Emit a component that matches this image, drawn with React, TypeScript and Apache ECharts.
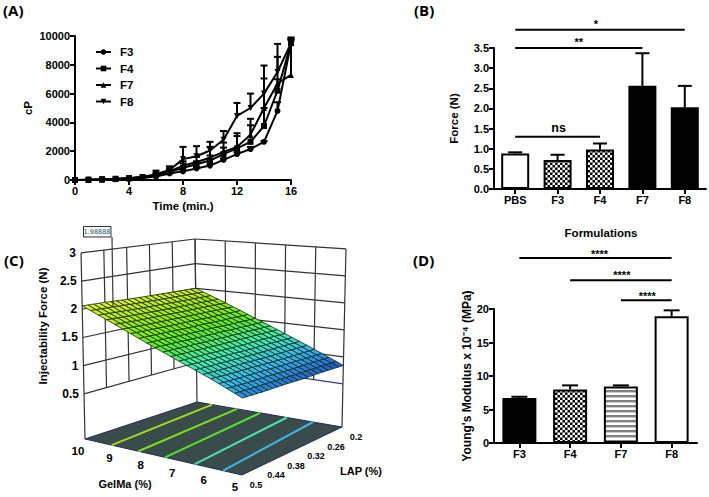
import React, { useEffect, useRef } from "react";
import * as echarts from "echarts";

// ---------- Panel A: viscosity vs time ----------
const times = [0, 1, 2, 3, 4, 5, 6, 7, 8, 9, 10, 11, 12, 13, 14, 15, 16];
const f3Visc = [0, 10, 30, 50, 80, 130, 250, 450, 600, 800, 1000, 1400, 1800, 2150, 2650, 4800, 9500];
const f4Visc = [0, 20, 40, 70, 130, 200, 350, 550, 850, 1100, 1350, 1800, 2200, 2650, 3750, 6200, 9500];
const f7Visc = [0, 20, 40, 70, 120, 200, 330, 600, 1000, 1250, 1550, 1950, 2300, 3150, 5000, 6700, 7300];
const f8Visc = [0, 20, 50, 80, 130, 210, 400, 700, 1450, 1650, 2050, 2800, 4450, 5000, 6000, 7500, 9500];
const f3Upper = [0, 10, 30, 50, 80, 130, 300, 500, 700, 900, 1100, 1500, 1950, 2300, 2700, 5400, 9700];
const f4Upper = [0, 20, 40, 70, 130, 200, 650, 800, 1150, 1300, 1700, 2250, 3050, 3800, 5000, 7000, 9800];
const f7Upper = [0, 20, 40, 70, 120, 200, 400, 700, 1300, 1600, 2300, 2600, 3250, 4250, 7050, 8550, 9800];
const f8Upper = [0, 20, 50, 80, 130, 210, 500, 950, 2300, 2350, 2650, 3400, 5350, 6000, 7950, 9450, 9900];

// ---------- Panel B: injection force ----------
const forceCats = ["PBS", "F3", "F4", "F7", "F8"];
const forceVals = [0.88, 0.72, 0.98, 2.56, 2.03];
const forceUpper = [0.91, 0.85, 1.13, 3.37, 2.56];
const forceSig = [
  { from: 0, to: 3.93, label: "*" },
  { from: -0.05, to: 3.03, label: "**" },
  { from: 0, to: 2, label: "ns" },
];

// ---------- Panel D: Young's modulus ----------
const modulusCats = ["F3", "F4", "F7", "F8"];
const modulusVals = [6.7, 8.0, 8.45, 18.9];
const modulusUpper = [6.9, 8.6, 8.6, 19.8];
const modulusSig = [
  { from: -0.06, to: 3, label: "****" },
  { from: 1.04, to: 3, label: "****" },
  { from: 2, to: 3, label: "****" },
];

// ---------- Panel C: response surface ----------
const gelmaTicks = [5, 6, 7, 8, 9, 10];
const lapTicks = [0.2, 0.26, 0.32, 0.38, 0.44, 0.5];
const zTicks = [0.5, 1, 1.5, 2, 2.5, 3];
// rows follow gelmaTicks, columns follow lapTicks
const forceSurface = [
  [0.84, 0.87, 0.89, 0.92, 0.94, 0.97],
  [1.07, 1.09, 1.11, 1.14, 1.16, 1.19],
  [1.3, 1.32, 1.33, 1.35, 1.37, 1.39],
  [1.53, 1.54, 1.56, 1.57, 1.59, 1.6],
  [1.77, 1.78, 1.79, 1.8, 1.81, 1.83],
  [2.0, 2.01, 2.02, 2.03, 2.05, 2.06],
];
const contourGelmaAtLapHigh = [9.15, 8.3, 7.45, 6.5, 5.6];
const contourGelmaAtLapLow = [9.48, 8.62, 7.82, 6.9, 6.0];
const contourColors = ["#a8d820", "#78e020", "#58e030", "#50e0a8", "#40b4e4"];

// ---------- styles & layout ----------
const FONT = "'Liberation Sans', Arial, sans-serif";
const SURF_RAMP = ["#1f50c8", "#35b8f5", "#40f0b0", "#60f020", "#a0ec10", "#e4f430"];
const Z_FLOOR = -0.3;
// projection corners: [floor x, floor y, px per unit z, x tilt per unit z]
const C_LEFT = [85, 439, 56.4, -1.2];
const C_FRONT = [242, 475, 60.6, 0.3];
const C_RIGHT = [342, 427, 54, 1.2];
const C_BACK = [197, 402, 49.4, -0.6];

function project(g: number, l: number, z: number): [number, number] {
  const u = (10 - g) / 5;
  const v = (0.5 - l) / 0.3;
  const mix = (k: number) =>
    (1 - u) * (1 - v) * C_LEFT[k] + u * (1 - v) * C_FRONT[k] + u * v * C_RIGHT[k] + (1 - u) * v * C_BACK[k];
  const dz = z - Z_FLOOR;
  return [mix(0) + mix(3) * dz, mix(1) - mix(2) * dz];
}

function checkerImage() {
  const c = document.createElement("canvas");
  c.width = 5;
  c.height = 5;
  const x = c.getContext("2d")!;
  x.fillStyle = "#000";
  x.fillRect(0, 0, 5, 5);
  x.fillStyle = "#fff";
  x.fillRect(0, 0, 2.5, 2.5);
  x.fillRect(2.5, 2.5, 2.5, 2.5);
  return c;
}
function stripeImage() {
  const c = document.createElement("canvas");
  c.width = 4;
  c.height = 5;
  const x = c.getContext("2d")!;
  x.fillStyle = "#fff";
  x.fillRect(0, 0, 4, 5);
  x.fillStyle = "#808080";
  x.fillRect(0, 0, 4, 2.4);
  return c;
}

const axisLine = { show: true, onZero: false, lineStyle: { color: "#000", width: 2 } };
const axisTick = (al = false) => ({ show: true, length: 5, alignWithLabel: al, lineStyle: { color: "#000", width: 2 } });
const axisLabel = { color: "#000", fontFamily: FONT, fontWeight: "bold" as const, fontSize: 11, margin: 5 };
const nameStyle = { color: "#000", fontFamily: FONT, fontWeight: "bold" as const, fontSize: 11.5 };

function lineSeries(name: string, vals: number[], symbol: string) {
  return {
    type: "line",
    name,
    xAxisIndex: 0,
    yAxisIndex: 0,
    data: times.map((t, i) => [t, vals[i]]),
    symbol,
    symbolSize: 6,
    clip: false,
    z: 3,
    lineStyle: { color: "#000", width: 2 },
    itemStyle: { color: "#000" },
  };
}
function errorSeries(idx: number, cats: number[] | null, vals: number[], upper: number[], cap: number) {
  return {
    type: "custom",
    xAxisIndex: idx,
    yAxisIndex: idx,
    clip: false,
    silent: true,
    z: 2,
    data: vals.map((v, i) => [cats ? cats[i] : i, v, upper[i]]),
    renderItem: (_p: any, api: any) => {
      const a = api.coord([api.value(0), api.value(1)]);
      const b = api.coord([api.value(0), api.value(2)]);
      const st = { stroke: "#000", lineWidth: 2, fill: "none" };
      return {
        type: "group",
        children: [
          { type: "line", shape: { x1: a[0], y1: a[1], x2: b[0], y2: b[1] }, style: st },
          { type: "line", shape: { x1: a[0] - cap / 2, y1: b[1], x2: a[0] + cap / 2, y2: b[1] }, style: st },
        ],
      };
    },
  };
}
function sigSeries(idx: number, sig: { from: number; to: number; label: string }[], levels: number[], fs: number[], textDx: number[], textDy: number[]) {
  return {
    type: "custom",
    xAxisIndex: idx,
    yAxisIndex: idx,
    clip: false,
    silent: true,
    data: sig.map((_, i) => [i]),
    renderItem: (p: any, api: any) => {
      const s = sig[p.dataIndex];
      const a = api.coord([s.from, levels[p.dataIndex]]);
      const b = api.coord([s.to, levels[p.dataIndex]]);
      return {
        type: "group",
        children: [
          { type: "line", shape: { x1: a[0], y1: a[1], x2: b[0], y2: b[1] }, style: { stroke: "#000", lineWidth: 2 } },
          {
            type: "text",
            style: {
              text: s.label,
              x: (a[0] + b[0]) / 2 + textDx[p.dataIndex],
              y: a[1] + textDy[p.dataIndex],
              align: "center",
              verticalAlign: "middle",
              font: `bold ${fs[p.dataIndex]}px ${FONT}`,
              fill: "#000",
            },
          },
        ],
      };
    },
  };
}

function buildWalls() {
  const segs: [number, number, number, number, number, number, string][] = [];
  const grey = "#333";
  zTicks.forEach((z, i) => {
    segs.push([10, 0.5, z, 10, 0.2, z, grey]);
    segs.push([10, 0.2, z, 5, 0.2, z, i === 0 ? "#2c3f8f" : grey]);
  });
  lapTicks.forEach((l) => segs.push([10, l, 0.5, 10, l, 3, grey]));
  gelmaTicks.forEach((g) => segs.push([g, 0.2, 0.5, g, 0.2, 3, grey]));
  segs.push([10, 0.5, Z_FLOOR, 10, 0.5, 0.5, grey]);
  segs.push([10, 0.2, Z_FLOOR, 10, 0.2, 0.5, grey]);
  segs.push([5, 0.2, Z_FLOOR, 5, 0.2, 0.5, grey]);
  return segs;
}
const SUB = 4;
function buildCells() {
  const cells: [number, number, number, number][] = [];
  for (let i = 0; i < gelmaTicks.length - 1; i++)
    for (let j = 0; j < lapTicks.length - 1; j++)
      for (let s = 0; s < SUB; s++) for (let t = 0; t < SUB; t++) cells.push([i, j, s, t]);
  return cells;
}
function surfacePoint(i: number, j: number, s: number, t: number): [number, number] {
  const a = s / SUB;
  const b = t / SUB;
  const g = gelmaTicks[i] + (gelmaTicks[i + 1] - gelmaTicks[i]) * a;
  const l = lapTicks[j] + (lapTicks[j + 1] - lapTicks[j]) * b;
  const z =
    (1 - a) * (1 - b) * forceSurface[i][j] +
    a * (1 - b) * forceSurface[i + 1][j] +
    (1 - a) * b * forceSurface[i][j + 1] +
    a * b * forceSurface[i + 1][j + 1];
  return project(g, l, z);
}
function surfaceValue(i: number, j: number, s: number, t: number) {
  const a = (s + 0.5) / SUB;
  const b = (t + 0.5) / SUB;
  return (
    (1 - a) * (1 - b) * forceSurface[i][j] +
    a * (1 - b) * forceSurface[i + 1][j] +
    (1 - a) * b * forceSurface[i][j + 1] +
    a * b * forceSurface[i + 1][j + 1]
  );
}

function buildOption() {
  const checker = { image: checkerImage(), repeat: "repeat" };
  const stripe = { image: stripeImage(), repeat: "repeat" };
  const barBorder = { borderColor: "#000", borderWidth: 2 };
  const walls = buildWalls();
  const cells = buildCells();
  const fsFill = ["#fff", checker, checker, "#000", "#000"];
  const ymFill = ["#000", checker, stripe, "#fff"];
  const tickText = (x: number, y: number, text: string, size: number, align = "center") => ({
    type: "text",
    style: { text, x, y, align, verticalAlign: "middle", font: `bold ${size}px ${FONT}`, fill: "#000" },
  });
  const panelLabel = (x: number, y: number, text: string) => ({
    type: "text", x, y, style: { text, font: "bold 15px 'Open Sans'", fill: "#000", align: "left", verticalAlign: "middle" },
  });

  return {
    animation: false,
    backgroundColor: "#fff",
    legend: {
      data: ["F3", "F4", "F7", "F8"],
      orient: "vertical",
      left: 95,
      top: 46,
      padding: 0,
      itemWidth: 15,
      itemHeight: 7,
      itemGap: 4.5,
      selectedMode: false,
      textStyle: { color: "#000", fontFamily: FONT, fontWeight: "bold", fontSize: 11.5, padding: [0, 0, 0, 4] },
    },
    grid: [
      { left: 75, top: 36, width: 216, height: 144 },
      { left: 494, top: 48, width: 212, height: 141 },
      { left: 494, top: 309, width: 203, height: 134 },
    ],
    xAxis: [
      {
        type: "value", gridIndex: 0, min: 0, max: 16, interval: 4, splitLine: { show: false },
        axisLine, axisTick: axisTick(), axisLabel, name: "Time (min.)", nameLocation: "middle", nameGap: 20, nameTextStyle: nameStyle,
      },
      { type: "category", gridIndex: 1, data: forceCats, axisLine, axisTick: axisTick(true), axisLabel: { ...axisLabel, margin: 5 } },
      { type: "category", gridIndex: 2, data: modulusCats, axisLine, axisTick: axisTick(true), axisLabel: { ...axisLabel, margin: 5 } },
    ],
    yAxis: [
      {
        type: "value", gridIndex: 0, min: 0, max: 10000, interval: 2000, splitLine: { show: false },
        axisLine, axisTick: axisTick(), axisLabel: { ...axisLabel, formatter: (v: number) => String(v) }, name: "cP", nameLocation: "middle", nameGap: 41, nameTextStyle: nameStyle,
      },
      {
        type: "value", gridIndex: 1, min: 0, max: 3.5, interval: 0.5, splitLine: { show: false },
        axisLine, axisTick: axisTick(), axisLabel: { ...axisLabel, formatter: (v: number) => v.toFixed(1) },
        name: "Force (N)", nameLocation: "middle", nameGap: 34, nameTextStyle: nameStyle,
      },
      {
        type: "value", gridIndex: 2, min: 0, max: 20, interval: 5, splitLine: { show: false },
        axisLine, axisTick: axisTick(), axisLabel,
        name: "Young's Modulus x 10⁻⁴ (MPa)", nameLocation: "middle", nameGap: 21, nameTextStyle: { ...nameStyle, fontSize: 12 },
      },
    ],
    graphic: [
      panelLabel(3, 10, "(A)"),
      panelLabel(414, 10, "(B)"),
      panelLabel(4, 260, "(C)"),
      panelLabel(413, 260, "(D)"),
      { type: "text", x: 601, y: 233, style: { text: "Formulations", font: `bold 11.5px ${FONT}`, fill: "#000", align: "center", verticalAlign: "middle" } },
      { type: "text", x: 43, y: 326, rotation: Math.PI / 2, style: { text: "Injectability Force (N)", font: `bold 11.5px ${FONT}`, fill: "#000", align: "center", verticalAlign: "middle" } },
      { type: "text", x: 125, y: 484, style: { text: "GelMa (%)", font: `bold 11px ${FONT}`, fill: "#000", align: "center", verticalAlign: "middle" } },
      { type: "text", x: 340, y: 471, style: { text: "LAP (%)", font: `bold 11px ${FONT}`, fill: "#000", align: "left", verticalAlign: "middle" } },
      { type: "line", z: 20, shape: { x1: 112, y1: 237, x2: 113, y2: 306 }, style: { stroke: "#3a3a3a", lineWidth: 1.2 } },
      { type: "rect", z: 20, shape: { x: 83.5, y: 226.5, width: 27.5, height: 10.5 }, style: { fill: "#f4f8f8", stroke: "#333", lineWidth: 1 } },
      { type: "text", z: 21, x: 97, y: 232, style: { text: "1.98888", font: "6.5px 'DejaVu Sans'", fill: "#2a5560", align: "center", verticalAlign: "middle" } },
    ],
    series: [
      lineSeries("F3", f3Visc, "circle"),
      lineSeries("F4", f4Visc, "rect"),
      lineSeries("F7", f7Visc, "triangle"),
      lineSeries("F8", f8Visc, "path://M0,0L10,0L5,10Z"),
      errorSeries(0, times, f3Visc, f3Upper, 7),
      errorSeries(0, times, f4Visc, f4Upper, 7),
      errorSeries(0, times, f7Visc, f7Upper, 7),
      errorSeries(0, times, f8Visc, f8Upper, 7),
      {
        type: "bar", xAxisIndex: 1, yAxisIndex: 1, barWidth: 28, z: 3,
        data: forceVals.map((v, i) => ({ value: v, itemStyle: { color: fsFill[i], ...barBorder } })),
      },
      errorSeries(1, null, forceVals, forceUpper, 14),
      sigSeries(1, forceSig, [3.95, 3.5, 1.3], [11, 11, 12.5], [-4, 0, 1], [-6, -6, -9]),
      {
        type: "bar", xAxisIndex: 2, yAxisIndex: 2, barWidth: 34, z: 3,
        data: modulusVals.map((v, i) => ({ value: v, itemStyle: { color: ymFill[i], ...barBorder } })),
      },
      errorSeries(2, null, modulusVals, modulusUpper, 16),
      sigSeries(2, modulusSig, [27.6, 24.3, 21.3], [11, 11, 11], [4, 1, 1], [-4, -5, -4]),
      // --- 3-D panel (projected by project()) ---
      {
        type: "custom", coordinateSystem: "none", silent: true, z: 1,
        data: walls.map((_, i) => [i]),
        renderItem: (p: any) => {
          const s = walls[p.dataIndex];
          const a = project(s[0], s[1], s[2]);
          const b = project(s[3], s[4], s[5]);
          return { type: "line", shape: { x1: a[0], y1: a[1], x2: b[0], y2: b[1] }, style: { stroke: s[6], lineWidth: 1.2 } };
        },
      },
      {
        type: "custom", coordinateSystem: "none", silent: true, z: 2,
        data: [[0]],
        renderItem: () => ({
          type: "polygon",
          shape: { points: [project(10, 0.5, Z_FLOOR), project(5, 0.5, Z_FLOOR), project(5, 0.2, Z_FLOOR), project(10, 0.2, Z_FLOOR)] },
          style: { fill: "#3a4b4b", stroke: "#1f2f5f", lineWidth: 1 },
        }),
      },
      {
        type: "custom", coordinateSystem: "none", silent: true, z: 3,
        data: contourColors.map((_, i) => [i]),
        renderItem: (p: any) => {
          const k = p.dataIndex;
          const a = project(contourGelmaAtLapHigh[k], 0.5, Z_FLOOR);
          const b = project(contourGelmaAtLapLow[k], 0.2, Z_FLOOR);
          return { type: "line", shape: { x1: a[0], y1: a[1], x2: b[0], y2: b[1] }, style: { stroke: contourColors[k], lineWidth: 2 } };
        },
      },
      {
        type: "custom", coordinateSystem: "none", silent: true, z: 4,
        data: cells.map((_, i) => [i]),
        renderItem: (p: any) => {
          const [i, j, s, t] = cells[p.dataIndex];
          const pts = [
            surfacePoint(i, j, s, t),
            surfacePoint(i, j, s + 1, t),
            surfacePoint(i, j, s + 1, t + 1),
            surfacePoint(i, j, s, t + 1),
          ];
          const n = (surfaceValue(i, j, s, t) - 0.84) / (2.06 - 0.84);
          return {
            type: "polygon",
            shape: { points: pts },
            style: { fill: echarts.color.lerp(n, SURF_RAMP), stroke: "#142814", lineWidth: 0.8 },
          };
        },
      },
      {
        type: "custom", coordinateSystem: "none", silent: true, z: 5,
        data: zTicks.map((_, i) => [i]),
        renderItem: (p: any) => {
          const z = zTicks[p.dataIndex];
          const a = project(10, 0.5, z);
          return tickText(a[0] - 5, a[1], String(z), 12, "right");
        },
      },
      {
        type: "custom", coordinateSystem: "none", silent: true, z: 5,
        data: gelmaTicks.map((_, i) => [i]),
        renderItem: (p: any) => {
          const g = gelmaTicks[p.dataIndex];
          const a = project(g, 0.5, Z_FLOOR);
          return tickText(a[0] - 7, a[1] + 12, String(g), 11.5);
        },
      },
      {
        type: "custom", coordinateSystem: "none", silent: true, z: 5,
        data: lapTicks.map((_, i) => [i]),
        renderItem: (p: any) => {
          const l = lapTicks[p.dataIndex];
          const a = project(5, l, Z_FLOOR);
          return tickText(a[0] + 14, a[1] + 10, String(l), 9);
        },
      },
    ],
  };
}

export default function App() {
  const ref = useRef<HTMLDivElement>(null);
  useEffect(() => {
    const chart = echarts.init(ref.current!, undefined, { renderer: "svg" });
    chart.setOption(buildOption() as any);
    return () => chart.dispose();
  }, []);
  return <div ref={ref} style={{ position: "absolute", left: 0, top: 0, width: 709, height: 497, background: "#fff" }} />;
}
